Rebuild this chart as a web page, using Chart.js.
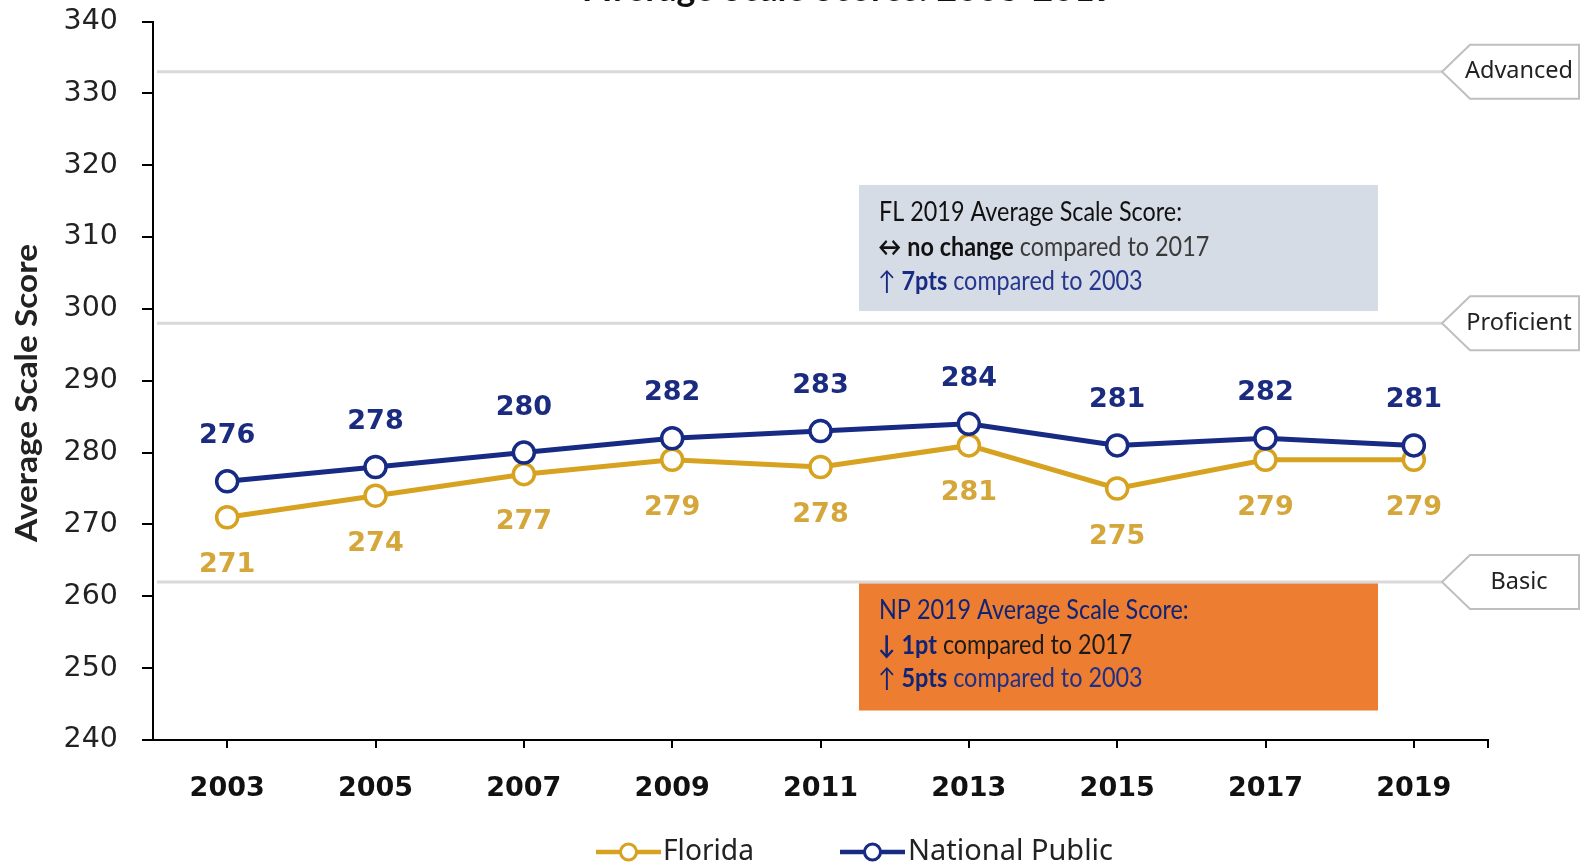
<!DOCTYPE html>
<html><head><meta charset="utf-8">
<script src="https://cdn.jsdelivr.net/npm/chart.js@4.4.1/dist/chart.umd.min.js"></script>
<style>html,body{margin:0;padding:0;background:#fff;overflow:hidden}#wrap{position:relative;width:1583px;height:864px}</style>
</head><body><div id="wrap"><canvas id="c" width="1583" height="864"></canvas></div>
<script>
// ---- data ----
const years = ['2003','2005','2007','2009','2011','2013','2015','2017','2019'];
const floridaScores = [271, 274, 277, 279, 278, 281, 275, 279, 279];
const nationalScores = [276, 278, 280, 282, 283, 284, 281, 282, 281];
const yTickValues = [240, 250, 260, 270, 280, 290, 300, 310, 320, 330, 340];
const levelNames = ['Advanced', 'Proficient', 'Basic'];
const levelScores = [333, 298, 262];
const chartTitle = 'Average Scale Scores: 2003-2019';
const yTitle = 'Average Scale Score';
const flNote = [['FL 2019 Average Scale Score:'], ['↔', 'no change', 'compared to 2017'], ['↑', '7pts', 'compared to 2003']];
const npNote = [['NP 2019 Average Scale Score:'], ['↓', '1pt', 'compared to 2017'], ['↑', '5pts', 'compared to 2003']];

// ---- styles ----
const GOLD = '#D6A220';
const GOLD_TXT = '#D5A63A';
const NAVY = '#172A84';
const NAVY_TXT = '#1B2C80';
const NOTE_FONT = '"Lato", sans-serif';
const UI_FONT = '"Noto Sans", "Open Sans", sans-serif';
const NOTE_SIZE = 26;

function fitSize(ctx, text, weight, family, target) {
  ctx.font = weight + ' 100px ' + family;
  return 100 * target / ctx.measureText(text).width;
}

function drawRuns(ctx, x, y, runs, styles, size, k) {
  ctx.save();
  ctx.translate(x, y);
  ctx.scale(k, 1);
  ctx.textAlign = 'left';
  ctx.textBaseline = 'alphabetic';
  ctx.font = 'normal ' + size + 'px ' + NOTE_FONT;
  const gap = ctx.measureText(' ').width;
  let cx = 0;
  runs.forEach((t, i) => {
    const st = styles[i];
    ctx.font = (st.bold ? 'bold ' : 'normal ') + size + 'px ' + NOTE_FONT;
    ctx.fillStyle = st.color;
    ctx.fillText(t, cx, 0);
    cx += ctx.measureText(t).width + gap;
  });
  ctx.restore();
}

const decor = {
  id: 'decor',
  beforeDatasetsDraw(chart) {
    const ctx = chart.ctx, ys = chart.scales.y, ca = chart.chartArea;
    ctx.save();
    // performance level lines + pentagon tags
    levelScores.forEach((v, i) => {
      const y = ys.getPixelForValue(v);
      ctx.strokeStyle = '#D9D9D9';
      ctx.lineWidth = 3;
      ctx.beginPath();
      ctx.moveTo(ca.left + 4, y);
      ctx.lineTo(1442, y);
      ctx.stroke();
      const h = 27;
      ctx.beginPath();
      ctx.moveTo(1442, y);
      ctx.lineTo(1470, y - h);
      ctx.lineTo(1579, y - h);
      ctx.lineTo(1579, y + h);
      ctx.lineTo(1470, y + h);
      ctx.closePath();
      ctx.fillStyle = '#fff';
      ctx.fill();
      ctx.strokeStyle = '#BFBFBF';
      ctx.lineWidth = 2;
      ctx.stroke();
      ctx.fillStyle = '#222';
      ctx.font = '23.5px ' + UI_FONT;
      ctx.textAlign = 'center';
      ctx.textBaseline = 'middle';
      ctx.fillText(levelNames[i], 1519, y);
    });
    // note boxes
    ctx.fillStyle = '#D6DCE5';
    ctx.fillRect(859, 185, 519, 126);
    ctx.fillStyle = '#ED7D31';
    ctx.fillRect(859, 583.5, 519, 127);
    ctx.font = 'normal ' + NOTE_SIZE + 'px ' + NOTE_FONT;
    const k = 303 / ctx.measureText(flNote[0][0]).width;
    drawRuns(ctx, 879, 221, flNote[0], [{color: '#111'}], NOTE_SIZE, k);
    drawRuns(ctx, 878, 256, flNote[1], [{color: '#111', bold: true}, {color: '#111', bold: true}, {color: '#3a3a3a'}], NOTE_SIZE, k);
    drawRuns(ctx, 878, 290, flNote[2], [{color: NAVY}, {color: NAVY, bold: true}, {color: '#26378F'}], NOTE_SIZE, k);
    drawRuns(ctx, 879, 619, npNote[0], [{color: '#0F2377'}], NOTE_SIZE, k);
    drawRuns(ctx, 878, 654, npNote[1], [{color: '#0F2377', bold: true}, {color: '#0F2377', bold: true}, {color: '#1a1a1a'}], NOTE_SIZE, k);
    drawRuns(ctx, 878, 687, npNote[2], [{color: '#0F2377'}, {color: '#0F2377', bold: true}, {color: '#1F2F86'}], NOTE_SIZE, k);
    ctx.restore();
  },
  afterDatasetsDraw(chart) {
    const ctx = chart.ctx, ca = chart.chartArea;
    ctx.save();
    // data labels
    ctx.font = 'bold 27px "DejaVu Sans", sans-serif';
    ctx.textAlign = 'center';
    ctx.textBaseline = 'middle';
    chart.data.datasets.forEach((ds, di) => {
      const meta = chart.getDatasetMeta(di);
      const above = di === 1;
      ctx.fillStyle = above ? NAVY_TXT : GOLD_TXT;
      meta.data.forEach((el, i) => {
        ctx.fillText(String(ds.data[i]), el.x, above ? el.y - 45 : el.y + 48);
      });
    });
    // right end tick of x axis
    ctx.strokeStyle = '#000';
    ctx.lineWidth = 2;
    ctx.beginPath();
    ctx.moveTo(ca.right, ca.bottom);
    ctx.lineTo(ca.right, ca.bottom + 8);
    ctx.stroke();
    // title (cut at top edge)
    const ts = fitSize(ctx, chartTitle, 'bold', '"Lato", sans-serif', 531);
    ctx.font = 'bold ' + ts + 'px "Lato", sans-serif';
    ctx.fillStyle = '#111';
    ctx.textAlign = 'center';
    ctx.textBaseline = 'alphabetic';
    ctx.fillText(chartTitle, 850, 1);
    // y axis title (condensed bold)
    ctx.save();
    ctx.translate(27, 393);
    ctx.rotate(-Math.PI / 2);
    ctx.font = 'bold 31px ' + NOTE_FONT;
    const yk = 298 / ctx.measureText(yTitle).width;
    ctx.scale(yk, 1);
    ctx.fillStyle = '#222';
    ctx.textBaseline = 'middle';
    ctx.textAlign = 'center';
    ctx.fillText(yTitle, 0, 0);
    ctx.restore();
    // legend
    const items = [
      {x0: 596, x1: 661, tx: 663, w: 91},
      {x0: 840, x1: 905, tx: 908, w: 205}
    ];
    chart.data.datasets.forEach((ds, i) => {
      const it = items[i], y = 852;
      ctx.strokeStyle = ds.borderColor;
      ctx.lineWidth = 4.5;
      ctx.beginPath();
      ctx.moveTo(it.x0, y); ctx.lineTo(it.x1, y);
      ctx.stroke();
      ctx.beginPath();
      ctx.arc((it.x0 + it.x1) / 2, y, 8, 0, Math.PI * 2);
      ctx.fillStyle = '#fff';
      ctx.fill();
      ctx.lineWidth = 3;
      ctx.stroke();
      const fs = fitSize(ctx, ds.label, 'normal', UI_FONT, it.w);
      ctx.font = fs + 'px ' + UI_FONT;
      ctx.fillStyle = '#222';
      ctx.textAlign = 'left';
      ctx.textBaseline = 'middle';
      ctx.fillText(ds.label, it.tx, y);
    });
    ctx.restore();
  }
};

new Chart(document.getElementById('c'), {
  type: 'line',
  data: {
    labels: years,
    datasets: [
      {label: 'Florida', data: floridaScores, borderColor: GOLD, backgroundColor: '#fff', borderWidth: 5,
       pointRadius: 10.5, pointBorderWidth: 3.5, pointBackgroundColor: '#fff', pointBorderColor: GOLD, order: 2, tension: 0},
      {label: 'National Public', data: nationalScores, borderColor: NAVY, backgroundColor: '#fff', borderWidth: 5,
       pointRadius: 10.5, pointBorderWidth: 3.5, pointBackgroundColor: '#fff', pointBorderColor: NAVY, order: 1, tension: 0}
    ]
  },
  options: {
    responsive: false, animation: false, devicePixelRatio: 1,
    layout: {padding: {top: 21.5, left: 0, right: 95, bottom: 60}},
    plugins: {legend: {display: false}, tooltip: {enabled: false}, title: {display: false}},
    scales: {
      x: {
        type: 'category', offset: true,
        grid: {display: true, drawOnChartArea: false, offset: false, tickLength: 8, color: '#000', lineWidth: 2},
        border: {display: true, color: '#000', width: 2},
        ticks: {font: {family: '"DejaVu Sans", sans-serif', weight: 'bold', size: 27}, color: '#111', padding: 25, maxRotation: 0, autoSkip: false},
        afterFit(s) { s.height = 64; s.paddingLeft = 0; s.paddingRight = 0; }
      },
      y: {
        min: 240, max: 340,
        afterBuildTicks(s) { s.ticks = yTickValues.map(v => ({value: v})); },
        ticks: {font: {family: '"DejaVu Sans", sans-serif', size: 28.5}, color: '#222', padding: 24},
        grid: {drawOnChartArea: false, tickLength: 11, color: '#000', lineWidth: 2},
        border: {color: '#000', width: 2},
        afterFit(s) { s.width = 153; s.paddingTop = 0; s.paddingBottom = 0; }
      }
    }
  },
  plugins: [decor]
});
</script></body></html>
